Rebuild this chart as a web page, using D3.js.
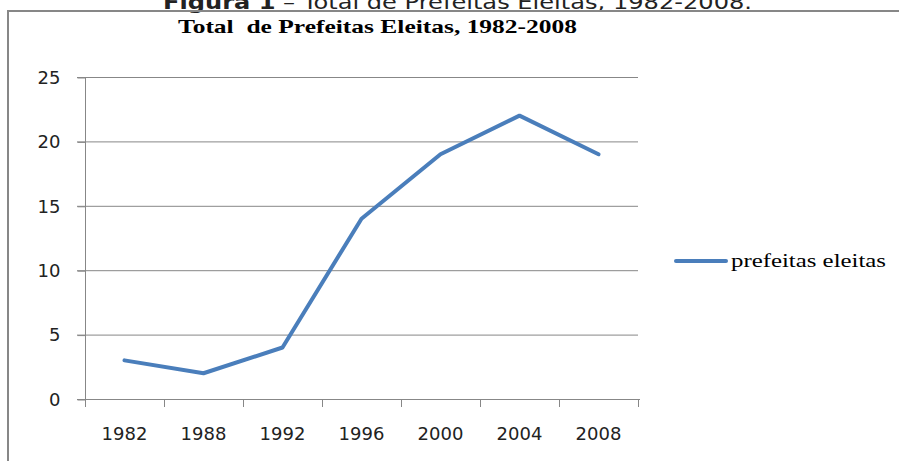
<!DOCTYPE html>
<html>
<head>
<meta charset="utf-8">
<script src="https://cdn.jsdelivr.net/npm/d3@7"></script>
<style>
  body { margin: 0; background: #fff; }
  svg { display: block; }
</style>
</head>
<body>
<div id="chart"></div>
<script>
// data
const years = ['1982', '1988', '1992', '1996', '2000', '2004', '2008'];
const prefeitas = [3, 2, 4, 14, 19, 22, 19];
const yTicks = [0, 5, 10, 15, 20, 25];
const seriesName = 'prefeitas eleitas';
const chartTitle = 'Total  de Prefeitas Eleitas, 1982-2008';

const width = 899, height = 461;
const plot = { left: 85, right: 638, top: 77, bottom: 399 };
const blue = '#4a7ebb';
const gray = '#878787';

const svg = d3.select('#chart').append('svg')
  .attr('width', width)
  .attr('height', height);

// caption of the document, cut off at the top as in the source image
const cap = svg.append('text')
  .attr('x', 163)
  .attr('y', 9)
  .attr('font-family', 'DejaVu Sans, Verdana, sans-serif')
  .attr('font-size', 20)
  .attr('fill', '#222')
  .attr('textLength', 589)
  .attr('lengthAdjust', 'spacingAndGlyphs');
cap.append('tspan').attr('font-weight', 'bold').text('Figura 1');
cap.append('tspan').text(' \u2013 Total de Prefeitas Eleitas, 1982-2008.');

// chart frame (left and top edges visible)
svg.append('path')
  .attr('d', `M8,${height} L8,11 L${width},11`)
  .attr('fill', 'none')
  .attr('stroke', gray)
  .attr('stroke-width', 2);

svg.append('text')
  .attr('x', 178)
  .attr('y', 33)
  .attr('font-family', 'Liberation Serif, Times New Roman, serif')
  .attr('font-weight', 'bold')
  .attr('font-size', 19)
  .attr('fill', '#000')
  .attr('textLength', 399)
  .attr('lengthAdjust', 'spacingAndGlyphs')
  .style('white-space', 'pre')
  .text(chartTitle);

const x = d3.scaleBand()
  .domain(years)
  .range([plot.left, plot.right]);

const y = d3.scaleLinear()
  .domain([0, 25])
  .range([plot.bottom, plot.top]);

// gridlines
svg.append('g')
  .selectAll('line')
  .data(yTicks)
  .join('line')
  .attr('x1', plot.left - 8)
  .attr('x2', plot.right)
  .attr('y1', d => y(d) + 0.5)
  .attr('y2', d => y(d) + 0.5)
  .attr('stroke', gray)
  .attr('stroke-width', 1);

// y axis
const yAxis = svg.append('g')
  .attr('transform', `translate(${plot.left + 0.5},0.5)`)
  .call(d3.axisLeft(y).tickValues(yTicks).tickSize(8).tickPadding(17));
yAxis.select('.domain').remove();
yAxis.selectAll('.tick line').attr('stroke', gray);
yAxis.selectAll('text')
  .attr('font-family', 'DejaVu Sans, sans-serif')
  .attr('font-size', 18)
  .attr('fill', '#222');
svg.append('line')
  .attr('x1', plot.left + 0.5).attr('x2', plot.left + 0.5)
  .attr('y1', plot.top).attr('y2', plot.bottom + 8)
  .attr('stroke', gray);

// x axis: labels centred in bands, ticks at band edges
const xAxis = svg.append('g')
  .attr('transform', `translate(0,${plot.bottom + 0.5})`)
  .call(d3.axisBottom(x).tickSize(0).tickPadding(28));
xAxis.select('.domain').remove();
xAxis.selectAll('text')
  .attr('font-family', 'DejaVu Sans, sans-serif')
  .attr('font-size', 18)
  .attr('fill', '#222');
svg.append('line')
  .attr('x1', plot.left).attr('x2', plot.right + 2)
  .attr('y1', plot.bottom + 0.5).attr('y2', plot.bottom + 0.5)
  .attr('stroke', gray);
svg.append('g')
  .selectAll('line')
  .data(years.slice(1).map(d => x(d)).concat([x.range()[1]]))
  .join('line')
  .attr('x1', d => Math.round(d) + 0.5)
  .attr('x2', d => Math.round(d) + 0.5)
  .attr('y1', plot.bottom)
  .attr('y2', plot.bottom + 8)
  .attr('stroke', gray);

// series line
const line = d3.line()
  .x((d, i) => x(years[i]) + x.bandwidth() / 2)
  .y(d => y(d));

svg.append('path')
  .datum(prefeitas)
  .attr('d', line)
  .attr('fill', 'none')
  .attr('stroke', blue)
  .attr('stroke-width', 4)
  .attr('stroke-linejoin', 'round')
  .attr('stroke-linecap', 'round');

// legend
const legend = svg.append('g').attr('transform', 'translate(676,261)');
legend.append('line')
  .attr('x1', 0).attr('x2', 50)
  .attr('stroke', blue)
  .attr('stroke-width', 4)
  .attr('stroke-linecap', 'round');
legend.append('text')
  .attr('x', 55)
  .attr('y', 6)
  .attr('font-family', 'Liberation Serif, Times New Roman, serif')
  .attr('font-size', 19)
  .attr('fill', '#000')
  .attr('textLength', 155)
  .attr('lengthAdjust', 'spacingAndGlyphs')
  .text(seriesName);
</script>
</body>
</html>
